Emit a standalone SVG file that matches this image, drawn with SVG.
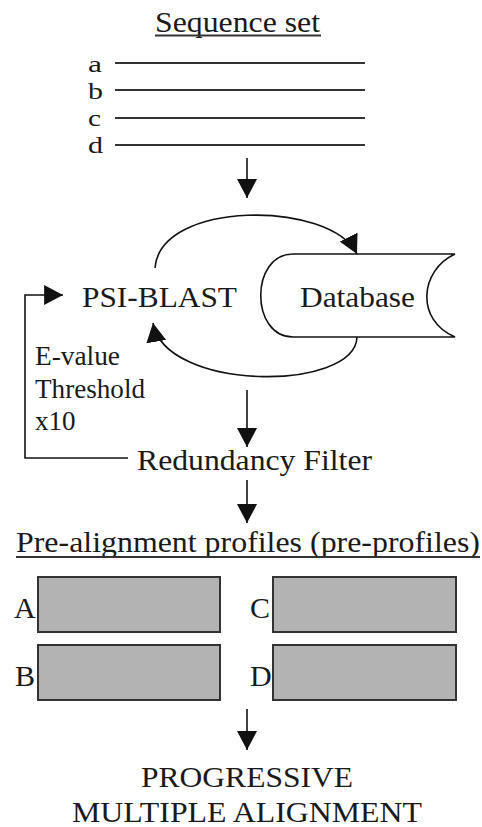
<svg xmlns="http://www.w3.org/2000/svg" width="482" height="827" viewBox="0 0 482 827">
<defs>
<marker id="ah" markerUnits="userSpaceOnUse" markerWidth="20" markerHeight="20" viewBox="0 0 18 18" refX="17" refY="9" orient="auto">
<path d="M0,0 L17,9 L0,18 Z" fill="#111"/>
</marker>
</defs>
<style>
text{font-family:"Liberation Serif","Times New Roman",serif;fill:#1a1a1a}
.t{font-size:30px}
.s{font-size:27px}
.l{font-size:23px}
.ln{stroke:#333;stroke-width:2;fill:none}
.c{stroke:#111;stroke-width:1.6;fill:none}
.box{fill:#b3b3b3;stroke:#333;stroke-width:2}
</style>
<rect width="482" height="827" fill="#fff"/>
<g id="sequence-set">
<text class="t" x="155" y="32" textLength="165" lengthAdjust="spacingAndGlyphs">Sequence set</text>
<line class="ln" x1="155" y1="35.5" x2="321" y2="35.5" stroke-width="1.5"/>
<text class="l" x="88" y="72" textLength="14" lengthAdjust="spacingAndGlyphs">a</text>
<text class="l" x="88" y="99" textLength="15" lengthAdjust="spacingAndGlyphs">b</text>
<text class="l" x="88" y="126" textLength="13" lengthAdjust="spacingAndGlyphs">c</text>
<text class="l" x="88" y="153" textLength="15" lengthAdjust="spacingAndGlyphs">d</text>
<line class="ln" x1="115" y1="63" x2="365" y2="63"/>
<line class="ln" x1="115" y1="90" x2="365" y2="90"/>
<line class="ln" x1="115" y1="118" x2="365" y2="118"/>
<line class="ln" x1="115" y1="145" x2="365" y2="145"/>
</g>
<g id="psi-blast">
<text class="t" x="82" y="307" textLength="155" lengthAdjust="spacingAndGlyphs">PSI-BLAST</text>
</g>
<g id="database">
<path d="M293,254 H455 C420,270 415,320 455,337 H293 C250,337 250,254 293,254 Z" fill="#fff" stroke="#111" stroke-width="1.6"/>
<text class="t" x="300" y="307" textLength="115" lengthAdjust="spacingAndGlyphs">Database</text>
</g>
<g id="evalue-label">
<text class="s" x="35" y="365" textLength="85" lengthAdjust="spacingAndGlyphs">E-value</text>
<text class="s" x="35" y="398" textLength="110" lengthAdjust="spacingAndGlyphs">Threshold</text>
<text class="s" x="35" y="430">x10</text>
</g>
<g id="redundancy-filter">
<text class="t" x="137" y="470" textLength="235" lengthAdjust="spacingAndGlyphs">Redundancy Filter</text>
</g>
<g id="pre-profiles">
<text class="t" x="16" y="552" textLength="464" lengthAdjust="spacingAndGlyphs">Pre-alignment profiles (pre-profiles)</text>
<line class="ln" x1="16" y1="557" x2="480" y2="557" stroke-width="1.5"/>
<rect class="box" x="38" y="577" width="182" height="55"/>
<rect class="box" x="273" y="577" width="183" height="55"/>
<rect class="box" x="38" y="645" width="182" height="55"/>
<rect class="box" x="273" y="645" width="183" height="55"/>
<text class="t" x="14" y="618">A</text>
<text class="t" x="250" y="618">C</text>
<text class="t" x="15" y="686">B</text>
<text class="t" x="250" y="686">D</text>
</g>
<g id="progressive">
<text class="t" x="247" y="787" text-anchor="middle" textLength="212" lengthAdjust="spacingAndGlyphs">PROGRESSIVE</text>
<text class="t" x="247" y="822" text-anchor="middle" textLength="350" lengthAdjust="spacingAndGlyphs">MULTIPLE ALIGNMENT</text>
</g>
<g id="connectors">
<line class="c" x1="247" y1="158" x2="247" y2="198" marker-end="url(#ah)"/>
<path class="c" d="M155,268 C160,200 330,200 357,254" marker-end="url(#ah)"/>
<path class="c" d="M357,337 C355,392 165,392 153,323" marker-end="url(#ah)"/>
<path class="c" d="M128,458 H25 V295 H63" marker-end="url(#ah)"/>
<line class="c" x1="247" y1="390" x2="247" y2="447" marker-end="url(#ah)"/>
<line class="c" x1="247" y1="480" x2="247" y2="523" marker-end="url(#ah)"/>
<line class="c" x1="247" y1="709" x2="247" y2="750" marker-end="url(#ah)"/>
</g>
</svg>
